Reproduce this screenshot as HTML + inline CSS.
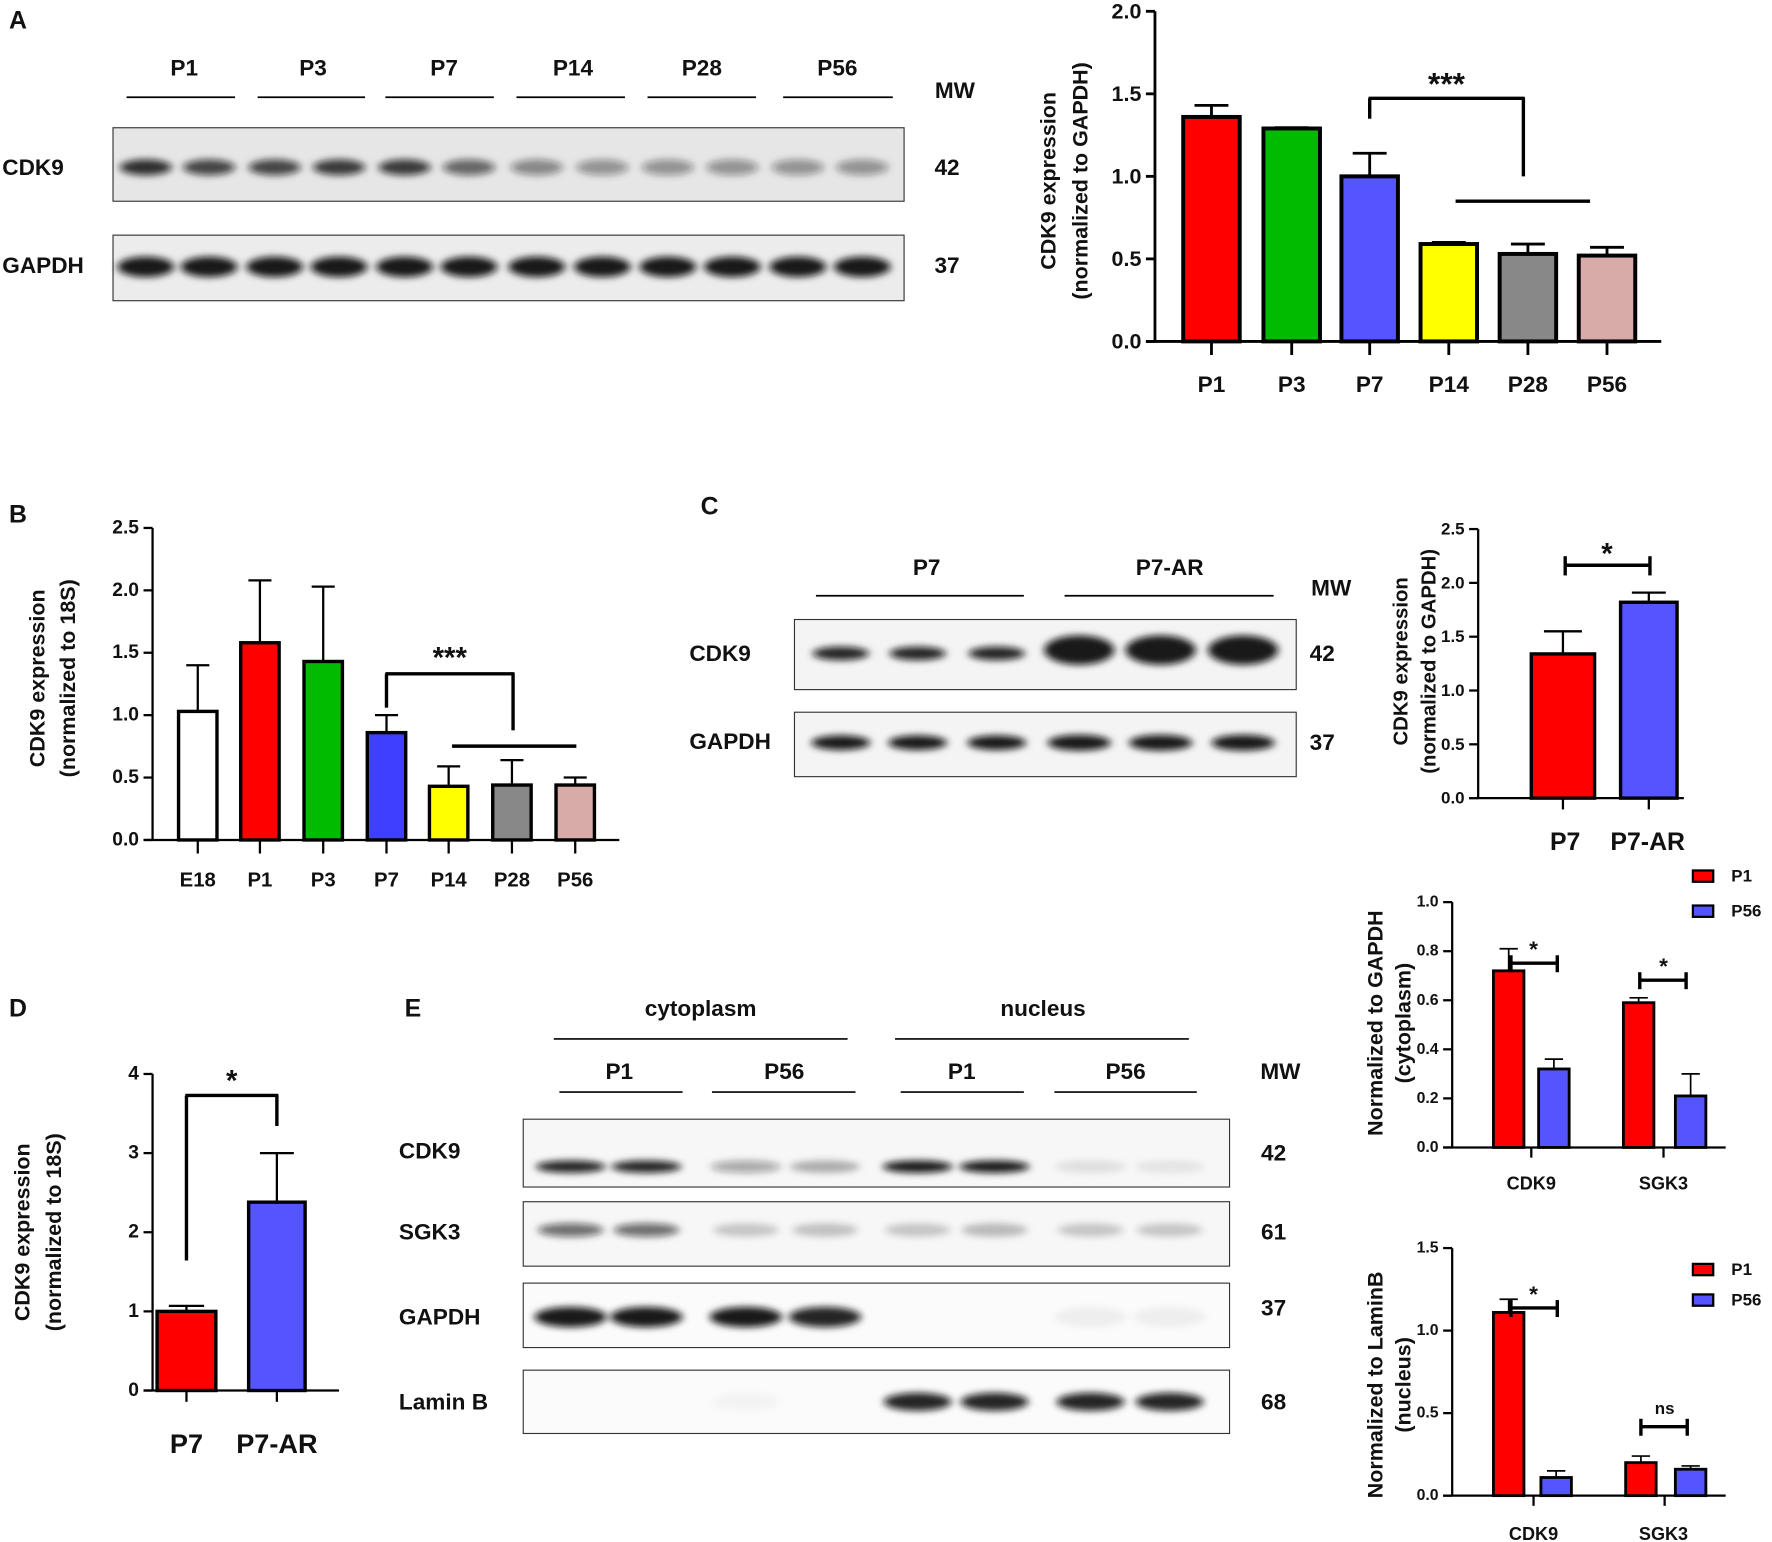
<!DOCTYPE html>
<html><head><meta charset="utf-8"><style>
html,body{margin:0;padding:0;background:#fff;}
svg{display:block;font-family:"Liberation Sans",Arial,sans-serif;}
</style></head><body>
<svg id="s" width="1772" height="1542" viewBox="0 0 1568 1364" preserveAspectRatio="none" xmlns="http://www.w3.org/2000/svg">
<defs>
<filter id="b" x="-50%" y="-100%" width="200%" height="300%"><feGaussianBlur stdDeviation="3.5 3"/></filter>
</defs>
<g id="g"></g>
</svg>
<script>
var out=[];
function T(x,y,t,sz,o){o=o||{};out.push('<text x="'+x+'" y="'+y+'" font-size="'+sz+'" font-weight="bold" text-anchor="'+(o.a||'middle')+'"'+(o.r?' transform="rotate(-90 '+x+' '+y+')"':'')+' dominant-baseline="central" fill="#111">'+t+'</text>');}
function L(x1,y1,x2,y2,w){out.push('<line x1="'+x1+'" y1="'+y1+'" x2="'+x2+'" y2="'+y2+'" stroke="#000" stroke-width="'+(w||2)+'"/>');}
function R(x,y,w,h,f,sw){out.push('<rect x="'+x+'" y="'+y+'" width="'+w+'" height="'+h+'" fill="'+f+'" stroke="#000" stroke-width="'+(sw||3)+'"/>');}
function band(cx,cy,w,h,op){out.push('<ellipse cx="'+cx+'" cy="'+cy+'" rx="'+w/2+'" ry="'+h/2+'" fill="#111" fill-opacity="'+op+'" filter="url(#b)"/>');}
function blot(x,y,w,h,bg){out.push('<rect x="'+x+'" y="'+y+'" width="'+w+'" height="'+h+'" fill="'+(bg||'#f2f2f2')+'" stroke="#333" stroke-width="1"/>');}
function axis(x0,y0,ytop,xend,ticks,unit,fs,lw){L(x0,ytop,x0,y0,lw);L(x0-8,y0,xend,y0,lw);
 ticks.forEach(function(t){var y=y0-t[0]*unit;L(x0-8,y,x0,y,lw);T(x0-12,y,t[1],fs,{a:'end'});});}
function bar(cx,w,y0,unit,v,e,col,lw){var top=y0-v*unit;L(cx,top,cx,y0-e*unit,lw);L(cx-w*0.3,y0-e*unit,cx+w*0.3,y0-e*unit,lw);R(cx-w/2,top,w,v*unit,col,lw+1);}
// ===== Panel A
T(8,18,'A',22,{a:'start'});
[['P1',163],['P3',277],['P7',393],['P14',507],['P28',621],['P56',741]].forEach(function(p,i){T(p[1],60,p[0],20);});
[[112,208],[228,323],[341,437],[457,553],[573,669],[693,790]].forEach(function(p){L(p[0],86,p[1],86,1.5);});
T(845,80,'MW',20);
blot(100,113,700,65,'#e6e6e6');blot(100,208,700,58,'#ececec');
T(2,148,'CDK9',20,{a:'start'});T(838,148,'42',20);T(2,235,'GAPDH',20,{a:'start'});T(838,235,'37',20);
var la=[129,185,243,300,358,415,475,533,591,648,706,763];
var ca=[.85,.75,.75,.8,.8,.6,.45,.4,.4,.4,.4,.4];
la.forEach(function(c,i){band(c,148,46,14,ca[i]);band(c,236,50,18,.95);});
var y0=302,u=146;axis(1022,y0,10,1470,[[0,'0.0'],[.5,'0.5'],[1,'1.0'],[1.5,'1.5'],[2,'2.0']],u,19,2.5);
var A=[[1072,1.36,1.43,'#ff0000','P1'],[1143,1.29,1.295,'#00bb00','P3'],[1212,1.0,1.14,'#5555ff','P7'],[1282,.59,.6,'#ffff00','P14'],[1352,.53,.59,'#888888','P28'],[1422,.52,.57,'#d8aaa8','P56']];
A.forEach(function(b){bar(b[0],50,y0,u,b[1],b[2],b[3],2.5);L(b[0],y0,b[0],314,2.5);T(b[0],340,b[4],20);});
L(1212,105,1212,87,3);L(1211,87,1349,87,3);L(1348,86,1348,156,3);T(1280,74,'***',28);L(1288,178,1407,178,3);
T(928,160,'CDK9 expression',19,{r:1});T(956,160,'(normalized to GAPDH)',19,{r:1});
// ===== Panel B
T(8,455,'B',22,{a:'start'});
y0=743;u=110.4;axis(135,y0,467,548,[[0,'0.0'],[.5,'0.5'],[1,'1.0'],[1.5,'1.5'],[2,'2.0'],[2.5,'2.5']],u,17,2);
var B=[[175,1.03,1.40,'#ffffff','E18'],[230,1.58,2.08,'#ff0000','P1'],[286,1.43,2.03,'#00bb00','P3'],[342,.86,1.0,'#3f3fff','P7'],[397,.43,.59,'#ffff00','P14'],[453,.44,.64,'#888888','P28'],[509,.44,.5,'#d8aaa8','P56']];
B.forEach(function(b){bar(b[0],34,y0,u,b[1],b[2],b[3],2);L(b[0],y0,b[0],755,2);T(b[0],779,b[4],18);});
L(342,626,342,596,3);L(341,596,455,596,3);L(454,595,454,646,3);T(398,582,'***',26);L(400,660,510,660,3);
T(33,600,'CDK9 expression',19,{r:1});T(60,600,'(normalized to 18S)',19,{r:1});
// ===== Panel C
T(620,448,'C',22,{a:'start'});
T(820,502,'P7',20);T(1035,502,'P7-AR',20);L(722,527,906,527,1.5);L(942,527,1127,527,1.5);T(1178,520,'MW',20);
blot(703,548,444,62,'#f4f4f4');blot(703,630,444,57,'#f4f4f4');
T(610,578,'CDK9',20,{a:'start'});T(1170,578,'42',20);T(610,656,'GAPDH',20,{a:'start'});T(1170,657,'37',20);
[744,812,882].forEach(function(c){band(c,578,50,12,.9);band(c,657,52,13,.95);});
[955,1027,1100].forEach(function(c){band(c,575,62,26,.95);band(c,657,56,14,.95);});
y0=706;u=95.2;axis(1308,y0,468,1490,[[0,'0.0'],[.5,'0.5'],[1,'1.0'],[1.5,'1.5'],[2,'2.0'],[2.5,'2.5']],u,15,2);
bar(1383,56,y0,u,1.34,1.55,'#ff0000',2);bar(1459,50,y0,u,1.82,1.91,'#5555ff',2);
L(1383,706,1383,716,2);L(1459,706,1459,716,2);
T(1385,745,'P7',22);T(1458,745,'P7-AR',22);
L(1385,500,1460,500,3);L(1385,492,1385,509,3);L(1460,492,1460,509,3);T(1422,490,'*',26);
T(1240,585,'CDK9 expression',18,{r:1});T(1265,585,'(normalized to GAPDH)',18,{r:1});
// ===== Panel D
T(8,892,'D',22,{a:'start'});
y0=1230;u=70;axis(135,y0,950,300,[[0,'0'],[1,'1'],[2,'2'],[3,'3'],[4,'4']],u,17,2);
bar(165,52,y0,u,1.0,1.07,'#ff0000',2);bar(245,50,y0,u,2.38,3.0,'#5555ff',2);
L(165,1230,165,1240,2);L(245,1230,245,1240,2);
L(165,1115,165,969,3);L(164,969,246,969,3);L(245,968,245,996,3);T(205,956,'*',26);
T(165,1277,'P7',24);T(245,1277,'P7-AR',24);
T(20,1090,'CDK9 expression',19,{r:1});T(48,1090,'(normalized to 18S)',19,{r:1});
// ===== Panel E
T(358,892,'E',22,{a:'start'});
T(620,892,'cytoplasm',20);T(923,892,'nucleus',20);L(490,919,750,919,1.5);L(792,919,1052,919,1.5);
T(548,948,'P1',20);T(694,948,'P56',20);T(851,948,'P1',20);T(996,948,'P56',20);
[[495,604],[630,757],[797,906],[933,1059]].forEach(function(p){L(p[0],966,p[1],966,1.5);});
T(1133,948,'MW',20);
blot(463,990,625,60,'#f7f7f7');blot(463,1063,625,57,'#f7f7f7');blot(463,1135,625,57,'#fbfbfb');blot(463,1212,625,56,'#fbfbfb');
T(353,1018,'CDK9',20,{a:'start'});T(353,1090,'SGK3',20,{a:'start'});T(353,1165,'GAPDH',20,{a:'start'});T(353,1240,'Lamin B',20,{a:'start'});
T(1127,1020,'42',20);T(1127,1090,'61',20);T(1127,1157,'37',20);T(1127,1240,'68',20);
var le=[505,572,660,730,812,880,965,1035];
var cd=[.9,.9,.35,.3,.95,.95,.1,.08],sg=[.6,.6,.2,.22,.2,.25,.2,.2],gp=[.95,.95,.95,.9,0,0,.05,.05],lm=[0,0,.03,0,.9,.9,.9,.9];
le.forEach(function(c,i){if(cd[i])band(c,1032,62,11,cd[i]);if(sg[i])band(c,1088,58,12,sg[i]);if(gp[i])band(c,1165,64,18,gp[i]);if(lm[i])band(c,1240,60,16,lm[i]);});
y0=1015;u=217;axis(1285,y0,798,1527,[[0,'0.0'],[.2,'0.2'],[.4,'0.4'],[.6,'0.6'],[.8,'0.8'],[1,'1.0']],u,14,2);
bar(1335,27,y0,u,.72,.81,'#ff0000',1.5);bar(1375,27,y0,u,.32,.36,'#5555ff',1.5);
bar(1450,27,y0,u,.59,.61,'#ff0000',1.5);bar(1496,27,y0,u,.21,.30,'#5555ff',1.5);
L(1355,1015,1355,1024,2);L(1472,1015,1472,1024,2);
T(1355,1047,'CDK9',16);T(1472,1047,'SGK3',16);
L(1337,852,1378,852,3);L(1337,845,1337,860,3);L(1378,845,1378,860,3);T(1357,840,'*',20);
L(1451,867,1492,867,3);L(1451,860,1451,875,3);L(1492,860,1492,875,3);T(1472,855,'*',20);
R(1498,770,18,10,'#ff0000',2);T(1532,775,'P1',15,{a:'start'});R(1498,801,18,10,'#5555ff',2);T(1532,806,'P56',15,{a:'start'});
T(1217,905,'Normalized to GAPDH',19,{r:1});T(1242,905,'(cytoplasm)',19,{r:1});
y0=1323;u=146;axis(1285,y0,1104,1527,[[0,'0.0'],[.5,'0.5'],[1,'1.0'],[1.5,'1.5']],u,14,2);
bar(1335,27,y0,u,1.11,1.19,'#ff0000',1.5);bar(1377,27,y0,u,.11,.15,'#5555ff',1.5);
bar(1452,27,y0,u,.20,.24,'#ff0000',1.5);bar(1496,27,y0,u,.16,.18,'#5555ff',1.5);
L(1357,1323,1357,1332,2);L(1473,1323,1473,1332,2);
T(1357,1357,'CDK9',16);T(1472,1357,'SGK3',16);
L(1337,1157,1378,1157,3);L(1337,1150,1337,1165,3);L(1378,1150,1378,1165,3);T(1357,1145,'*',20);
L(1452,1262,1493,1262,3);L(1452,1255,1452,1270,3);L(1493,1255,1493,1270,3);T(1473,1246,'ns',15);
R(1498,1118,18,10,'#ff0000',2);T(1532,1123,'P1',15,{a:'start'});R(1498,1145,18,10,'#5555ff',2);T(1532,1150,'P56',15,{a:'start'});
T(1217,1225,'Normalized to LaminB',19,{r:1});T(1242,1225,'(nucleus)',19,{r:1});
document.getElementById('g').innerHTML=out.join('');
</script>
</body></html>
